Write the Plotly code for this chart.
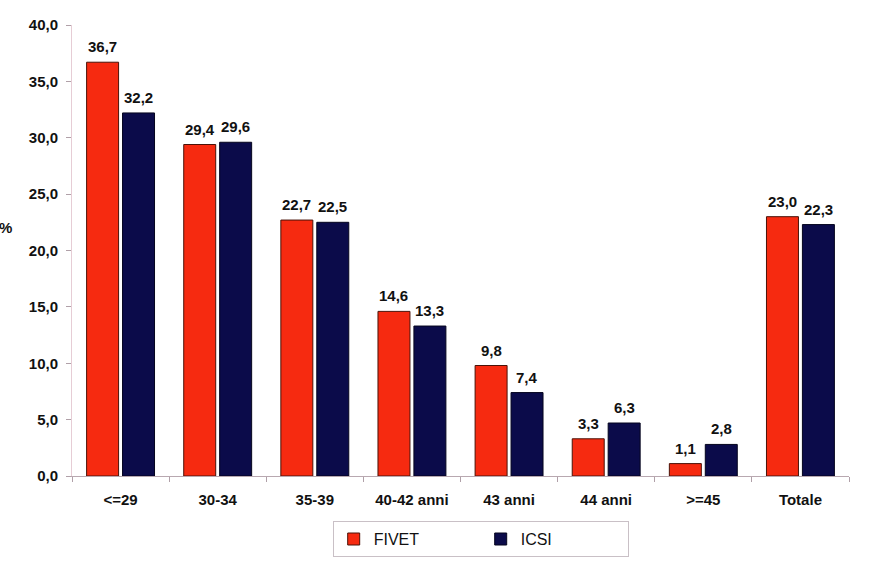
import plotly.graph_objects as go

categories = ["<=29", "30-34", "35-39", "40-42 anni", "43 anni", "44 anni", ">=45", "Totale"]
fivet = [36.7, 29.4, 22.7, 14.6, 9.8, 3.3, 1.1, 23.0]
icsi = [32.2, 29.6, 22.5, 13.3, 7.4, 4.7, 2.8, 22.3]
fivet_labels = ["36,7", "29,4", "22,7", "14,6", "9,8", "3,3", "1,1", "23,0"]
icsi_labels = ["32,2", "29,6", "22,5", "13,3", "7,4", "6,3", "2,8", "22,3"]
y_ticks = [0, 5, 10, 15, 20, 25, 30, 35, 40]

FONT = "Liberation Sans, Arial, sans-serif"

fig = go.Figure()
fig.add_trace(go.Bar(
    name="FIVET", x=categories, y=fivet,
    marker=dict(color="#f62a10", line=dict(color="#4a1208", width=1)),
))
fig.add_trace(go.Bar(
    name="ICSI", x=categories, y=icsi,
    marker=dict(color="#0b0b4a", line=dict(color="#05051e", width=1)),
))

annotations = []
for cat, v, t in zip(categories, fivet, fivet_labels):
    annotations.append(dict(x=cat, y=v, text="<b>%s</b>" % t, xshift=-18, yshift=5,
                            xanchor="center", yanchor="bottom", showarrow=False,
                            font=dict(family=FONT, size=15, color="#111111")))
for cat, v, t in zip(categories, icsi, icsi_labels):
    annotations.append(dict(x=cat, y=v, text="<b>%s</b>" % t, xshift=18, yshift=5,
                            xanchor="center", yanchor="bottom", showarrow=False,
                            font=dict(family=FONT, size=15, color="#111111")))
annotations.append(dict(
    text="<b>%</b>", xref="paper", yref="paper", x=-0.085, y=0.55,
    xanchor="center", yanchor="middle", showarrow=False,
    font=dict(family=FONT, size=15, color="#111111"),
))

fig.update_layout(
    width=873, height=561,
    margin=dict(l=72, r=24, t=25, b=85, autoexpand=False),
    paper_bgcolor="white", plot_bgcolor="white",
    barmode="group", bargap=0.26, bargroupgap=0.11,
    separators=",.",
    showlegend=True,
    legend=dict(
        orientation="h", x=0.526, xanchor="center", y=-0.1, yanchor="top",
        bordercolor="#c9c0c6", borderwidth=1,
        font=dict(family=FONT, size=16, color="#111111"),
        entrywidth=102, itemwidth=30, tracegroupgap=0,
    ),
    xaxis=dict(
        showline=True, linecolor="#b8a8b0", linewidth=1,
        ticks="outside", tickson="boundaries", ticklen=5, tickcolor="#b0a0a8",
        ticklabelstandoff=10,
        tickfont=dict(family=FONT, size=15, color="#111111", weight="bold"),
        showgrid=False,
    ),
    yaxis=dict(
        range=[0, 40], tickvals=y_ticks, tickformat=".1f",
        showline=True, linecolor="#e6cdd5", linewidth=1,
        ticks="outside", ticklen=5, tickcolor="#b0a0a8",
        ticklabelstandoff=5,
        tickfont=dict(family=FONT, size=15, color="#111111", weight="bold"),
        showgrid=False, zeroline=False,
    ),
    annotations=annotations,
)

fig.write_html("out.html")
